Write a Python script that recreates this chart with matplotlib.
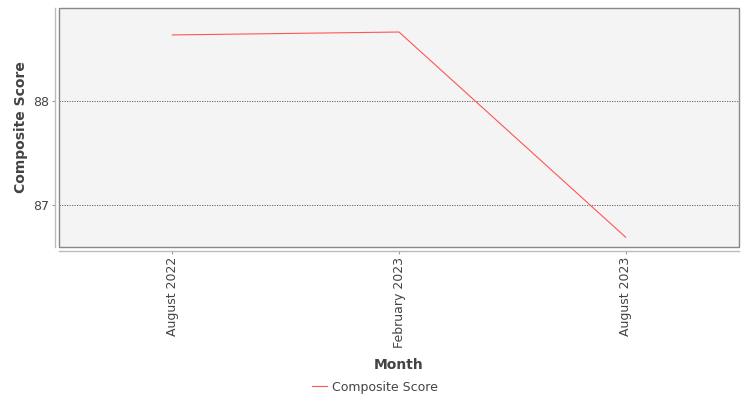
import matplotlib
matplotlib.use("Agg")
import matplotlib.pyplot as plt
from matplotlib.patches import Rectangle
from matplotlib.lines import Line2D

months = ["August 2022", "February 2023", "August 2023"]
composite_score = [88.635, 88.663, 86.69]
y_ticks = [87, 88]
series_name = "Composite Score"

plt.rcParams['font.family'] = ['DejaVu Sans']

fig = plt.figure(figsize=(7.5, 4.0), dpi=100)
fig.patch.set_facecolor("white")
ax = fig.add_axes([59/750, 1-247/400, (739-59)/750, (247-8)/400])
ax.set_facecolor("#f4f4f4")

x = list(range(len(months)))
ax.plot(x, composite_score, color="#ff5555", linewidth=0.8, label=series_name)

ax.set_xlim(-0.5, len(months) - 0.5)
ax.set_ylim(86.596, 88.894)
ax.set_yticks(y_ticks)
ax.set_yticklabels([str(t) for t in y_ticks])
ax.set_xticks(x)
ax.set_xticklabels(months)

ax.grid(axis="y", color="#555555", linestyle=(0, (1.5, 1.5)), linewidth=0.6)
ax.set_axisbelow(True)

for s in ["top", "right"]:
    ax.spines[s].set_visible(False)
for s in ["left", "bottom"]:
    ax.spines[s].set_position(("outward", 3))
    ax.spines[s].set_color("#bbbbbb")
    ax.spines[s].set_linewidth(1.0)

ax.add_patch(Rectangle((0, 0), 1, 1, transform=ax.transAxes, fill=False,
                       edgecolor="#888888", linewidth=1.0, clip_on=False, zorder=5))

ax.tick_params(axis="both", length=2, width=0.8, color="#999999",
               labelsize=9, labelcolor="#444444", pad=2)
ax.tick_params(axis="x", labelrotation=90)

ax.set_xlabel("Month", fontsize=10, fontweight="bold", color="#444444", labelpad=7.5)
ax.set_ylabel(series_name, fontsize=10, fontweight="bold", color="#444444", labelpad=4)

handle = Line2D([], [], color="#ff5555", linewidth=0.8)
fig.legend([handle], [series_name], loc="center", bbox_to_anchor=(0.5, 1-387/400),
           frameon=False, fontsize=9, handlelength=1.2, handletextpad=0.4,
           labelcolor="#444444")

fig.savefig("out.png", dpi=100)
